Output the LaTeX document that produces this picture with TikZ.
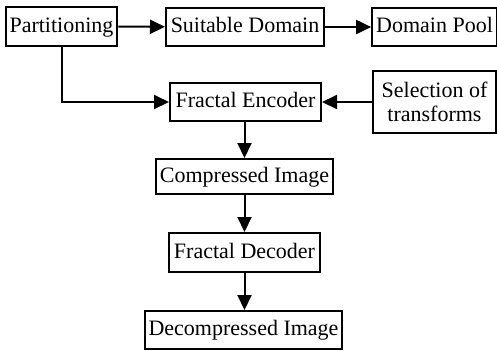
\documentclass[tikz,border=0pt]{standalone}
\usepackage{fontspec}
\setmainfont{Liberation Serif}
\usetikzlibrary{arrows.meta, positioning}
\tikzset{
  box/.style   = {draw, line width=1pt, inner sep=2pt, align=center,
                  font=\fontsize{11}{12}\selectfont},
  lbox/.style  = {box, text height=7pt, text depth=1.5pt},
  arrow/.style = {-{Triangle[length=7.5pt, width=7pt]}, line width=1pt},
}
\begin{document}
\begin{tikzpicture}[x=0.5pt, y=-0.5pt]
  \useasboundingbox (0,0) rectangle (497,350);
  % top row
  \node[lbox, minimum width=55.5pt, minimum height=19.5pt] (part) at (61.5,26.5) {Partitioning};
  \node[lbox, minimum width=79pt, minimum height=19pt] (suit) at (245,27) {Suitable Domain};
  \node[lbox, minimum width=61.5pt, minimum height=19pt] (pool) at (434.5,27) {Domain Pool};
  % encoder row
  \node[lbox, minimum width=75.5pt, minimum height=19pt] (enc) at (245.5,102) {Fractal Encoder};
  \node[box, minimum width=61.5pt, minimum height=31pt] (sel) at (434.5,102) {Selection of\\transforms};
  % output chain
  \node[lbox, minimum width=87.5pt, minimum height=17.5pt] (comp) at (244.5,176.5) {Compressed Image};
  \node[lbox, minimum width=75.5pt, minimum height=19.5pt] (dec) at (244.5,252.5) {Fractal Decoder};
  \node[lbox, minimum width=97pt, minimum height=19pt] (decomp) at (243.5,330) {Decompressed Image};
  \draw[arrow] (part) -- (suit);
  \draw[arrow] (suit) -- (pool);
  \draw[arrow] (part.south -| 62,0) |- (enc.west);
  \draw[arrow] (sel) -- (enc);
  \draw[arrow] (enc.south -| 244.5,0) -- (comp.north -| 244.5,0);
  \draw[arrow] (comp) -- (dec);
  \draw[arrow] (dec) -- (decomp.north -| dec.south);
\end{tikzpicture}
\end{document}
